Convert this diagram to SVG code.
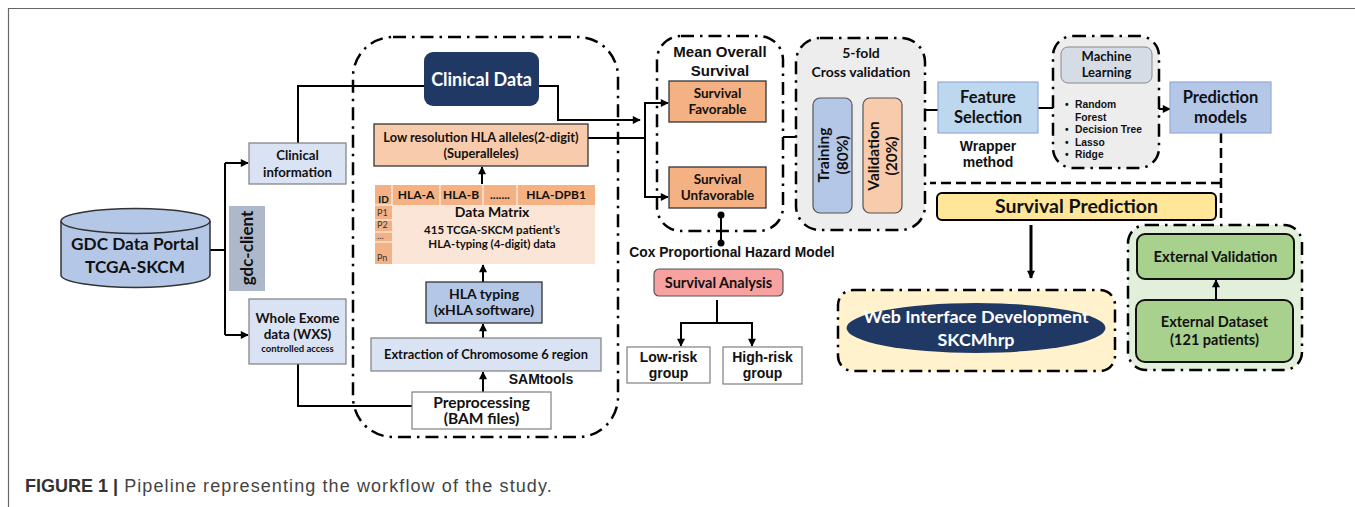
<svg xmlns="http://www.w3.org/2000/svg" width="1355" height="507" viewBox="0 0 1355 507">
<style>
.t{font-family:Lato,"Liberation Sans",sans-serif;font-weight:bold;fill:#111;text-anchor:middle}
.a{font-family:"Liberation Sans",Arial,sans-serif;font-weight:bold;fill:#111;text-anchor:middle}
.w{fill:#fff}
.dd{fill:none;stroke:#000;stroke-width:2.5;stroke-dasharray:13 6 2.5 6}
.ln{fill:none;stroke:#000;stroke-width:2}
.dash{fill:none;stroke:#000;stroke-width:2.5;stroke-dasharray:10 5}
.bx{stroke:#7f7f7f;stroke-width:1.2}
.bk{stroke:#333;stroke-width:1.3}
</style>
<defs>
<marker id="ah" viewBox="0 0 10 10" refX="9" refY="5" markerWidth="9" markerHeight="8" markerUnits="userSpaceOnUse" orient="auto-start-reverse">
<path d="M0,0 L10,5 L0,10 Z" fill="#000"/>
</marker>
</defs>
<rect x="0" y="0" width="1355" height="507" fill="#fff"/>
<path d="M8.5,507 V8.5 H1355" fill="none" stroke="#666" stroke-width="1.2"/>

<!-- group containers -->
<g id="grp-hla">
<rect class="dd" x="353" y="37" width="265" height="400" rx="40"/>
</g>
<g id="grp-mos">
<rect class="dd" x="657" y="36" width="126" height="195" rx="24"/>
<text class="a" x="720" y="57" font-size="15">Mean Overall</text>
<text class="a" x="720" y="76" font-size="15">Survival</text>
</g>
<g id="grp-cv">
<rect class="dd" x="796" y="38" width="129" height="192" rx="24" style="fill:#ededed"/>
<text class="t" x="861" y="58" font-size="14">5-fold</text>
<text class="t" x="861" y="77" font-size="14">Cross validation</text>
</g>
<g id="grp-ml">
<rect class="dd" x="1053" y="36" width="106" height="132" rx="20" style="fill:#ededed"/>
</g>
<g id="grp-web">
<rect class="dd" x="838" y="290" width="277" height="81" rx="15" style="fill:#fff2cc"/>
</g>
<g id="grp-ext">
<rect class="dd" x="1128" y="225" width="174" height="145" rx="18" style="fill:#e2efda"/>
</g>

<!-- connectors -->
<g id="connectors">
<path class="ln" d="M210,250 H225"/>
<path class="ln" d="M225,163 V335"/>
<path class="ln" d="M225,163 H248" marker-end="url(#ah)"/>
<path class="ln" d="M225,335 H248" marker-end="url(#ah)"/>
<path class="ln" d="M298,143 V86 H424"/>
<path class="ln" d="M298,364 V406 H412"/>
<path class="ln" d="M539,86 H558 V120 H640" marker-end="url(#ah)"/>
<path class="ln" d="M588,138 H645"/>
<path class="ln" d="M668,103 H645 V197 H668" marker-start="url(#ah)" marker-end="url(#ah)"/>
<path class="ln" d="M482,184 V167" marker-end="url(#ah)"/>
<path class="ln" d="M483,282 V265" marker-end="url(#ah)"/>
<path class="ln" d="M483,338 V324" marker-end="url(#ah)"/>
<path class="ln" d="M483,392 V372" marker-end="url(#ah)"/>
<path class="ln" d="M721,215 V243"/>
<circle cx="721" cy="215" r="3.5" fill="#000"/>
<circle cx="721" cy="243" r="3.5" fill="#000"/>
<path class="ln" d="M717,300 V323"/>
<path class="ln" d="M681,346 V323 H752 V346" marker-start="url(#ah)" marker-end="url(#ah)"/>
<path class="ln" d="M783,137 H796"/>
<path class="ln" d="M925,110 H938"/>
<path class="ln" d="M1038,108 H1053"/>
<path class="ln" d="M1159,109 H1170" marker-end="url(#ah)"/>
<path class="dash" d="M1221,133 V222"/>
<path class="dash" d="M1221,183 H930"/>
<path d="M1031,225 V278" fill="none" stroke="#000" stroke-width="3" marker-end="url(#ah)"/>
<path class="ln" d="M1216,300 V280" marker-end="url(#ah)"/>
</g>

<!-- nodes -->
<g id="gdc">
<path d="M61,221 V275 A74.5,12.5 0 0 0 210,275 V221" fill="#b4c7e7" stroke="#333" stroke-width="1.5"/>
<ellipse cx="135.5" cy="221" rx="74.5" ry="12.5" fill="#b4c7e7" stroke="#333" stroke-width="1.5"/>
<text class="t" x="135" y="250" font-size="17.2">GDC Data Portal</text>
<text class="t" x="135" y="273" font-size="17.2">TCGA-SKCM</text>
</g>
<g id="gdc-client">
<rect x="229" y="206" width="36" height="85" fill="#adb9ca"/>
<text class="t" transform="translate(253,248) rotate(-90)" font-size="17">gdc-client</text>
</g>
<g id="clinical-info">
<rect class="bx" x="249" y="143" width="97" height="41" fill="#dae3f3"/>
<text class="t" x="297.5" y="160" font-size="13.2">Clinical</text>
<text class="t" x="297.5" y="177" font-size="13.2">information</text>
</g>
<g id="wxs">
<rect class="bx" x="249" y="299" width="97" height="65" fill="#dae3f3"/>
<text class="t" x="297.5" y="323" font-size="13.5">Whole Exome</text>
<text class="t" x="297.5" y="339" font-size="13.5">data (WXS)</text>
<text class="t" x="297.5" y="352" font-size="9.5">controlled access</text>
</g>
<g id="clinical-data">
<rect x="424" y="52" width="115" height="54" rx="9" fill="#203864"/>
<text class="t w" x="481.5" y="86" font-size="18">Clinical Data</text>
</g>
<g id="low-res">
<rect class="bk" x="374" y="124" width="214" height="42" fill="#f8cbad"/>
<text class="t" x="481" y="142" font-size="12.8">Low resolution HLA alleles(2-digit)</text>
<text class="t" x="481" y="158" font-size="12.8">(Superalleles)</text>
</g>
<g id="data-matrix">
<rect x="375" y="185" width="220" height="79" fill="#fbe5d6"/>
<rect x="375" y="185" width="220" height="20" fill="#f4b183"/>
<rect x="375" y="185" width="17" height="79" fill="#f4b183"/>
<path d="M392,185 V205 M440,185 V205 M483,185 V205 M517,185 V205 M375,205 H392 M375,220 H392 M375,232 H392 M375,242 H392" stroke="#fff" stroke-width="1"/>
<text class="t" x="383.5" y="203" font-size="10">ID</text>
<text class="t" x="416" y="199" font-size="12">HLA-A</text>
<text class="t" x="461" y="199" font-size="12">HLA-B</text>
<text class="t" x="500" y="199" font-size="12">.......</text>
<text class="t" x="556" y="199" font-size="12">HLA-DPB1</text>
<g font-family="Lato,'Liberation Sans',sans-serif" font-size="9" fill="#333">
<text x="377" y="216">P1</text>
<text x="377" y="228">P2</text>
<text x="377" y="239">…</text>
<text x="377" y="261">Pn</text>
</g>
<text class="t" x="492" y="217" font-size="14">Data Matrix</text>
<text class="t" x="492" y="234" font-size="11.5">415 TCGA-SKCM patient’s</text>
<text class="t" x="492" y="248" font-size="11.5">HLA-typing (4-digit) data</text>
</g>
<g id="hla-typing">
<rect class="bk" x="426" y="282" width="116" height="41" fill="#b4c7e7"/>
<text class="t" x="484" y="299" font-size="14">HLA typing</text>
<text class="t" x="484" y="315" font-size="14">(xHLA software)</text>
</g>
<g id="extraction">
<rect class="bx" x="371" y="338" width="230" height="33" fill="#dae3f3"/>
<text class="t" x="486" y="359" font-size="12.9">Extraction of Chromosome 6 region</text>
</g>
<g id="samtools">
<text class="a" x="541" y="384" font-size="14">SAMtools</text>
</g>
<g id="preprocessing">
<rect class="bx" x="412" y="392" width="139" height="37" fill="#fff"/>
<text class="t" x="481.5" y="408" font-size="15.5">Preprocessing</text>
<text class="t" x="481.5" y="424" font-size="15.5">(BAM files)</text>
</g>
<g id="surv-fav">
<rect class="bk" x="669" y="81" width="97" height="41" fill="#f4b183"/>
<text class="t" x="717.5" y="98" font-size="13.5">Survival</text>
<text class="t" x="717.5" y="114" font-size="13.5">Favorable</text>
</g>
<g id="surv-unfav">
<rect class="bk" x="669" y="167" width="97" height="41" fill="#f4b183"/>
<text class="t" x="717.5" y="184" font-size="13.5">Survival</text>
<text class="t" x="717.5" y="200" font-size="13.5">Unfavorable</text>
</g>
<g id="cox">
<text class="a" x="732" y="257" font-size="13.8">Cox Proportional Hazard Model</text>
</g>
<g id="surv-analysis">
<rect x="654" y="269" width="129" height="27" rx="5" fill="#f7a1a1" stroke="#555" stroke-width="1.2"/>
<text class="t" x="718.5" y="288" font-size="14.5">Survival Analysis</text>
</g>
<g id="low-risk">
<rect class="bx" x="627" y="347" width="83" height="36" fill="#fff"/>
<text class="a" x="668.5" y="362" font-size="14">Low-risk</text>
<text class="a" x="668.5" y="378" font-size="14">group</text>
</g>
<g id="high-risk">
<rect class="bx" x="723" y="347" width="79" height="37" fill="#fff"/>
<text class="a" x="762.5" y="362" font-size="14">High-risk</text>
<text class="a" x="762.5" y="378" font-size="14">group</text>
</g>
<g id="training">
<rect x="813" y="98" width="39" height="115" rx="7" fill="#b4c7e7" stroke="#555" stroke-width="1.2"/>
<text class="t" transform="translate(829,155) rotate(-90)" font-size="15.5">Training</text>
<text class="t" transform="translate(848,155) rotate(-90)" font-size="15.5">(80%)</text>
</g>
<g id="validation">
<rect x="863" y="98" width="39" height="115" rx="7" fill="#f8cbad" stroke="#555" stroke-width="1.2"/>
<text class="t" transform="translate(879,156) rotate(-90)" font-size="15.5">Validation</text>
<text class="t" transform="translate(897,156) rotate(-90)" font-size="15.5">(20%)</text>
</g>
<g id="feature-selection">
<rect x="938" y="82" width="100" height="51" fill="#bdd7ee" stroke="#8faadc" stroke-width="1.2"/>
<text class="t" x="988" y="103" font-size="16.5">Feature</text>
<text class="t" x="988" y="123" font-size="16.5">Selection</text>
<text class="a" x="988" y="151" font-size="14">Wrapper</text>
<text class="a" x="988" y="167" font-size="14">method</text>
</g>
<g id="machine-learning">
<rect x="1061" y="47" width="91" height="36" rx="7" fill="#d6dce5" stroke="#888" stroke-width="1"/>
<text class="t" x="1106.5" y="61" font-size="13">Machine</text>
<text class="t" x="1106.5" y="77" font-size="13">Learning</text>
<g font-family="'Liberation Sans',Arial,sans-serif" font-weight="bold" font-size="10.3" fill="#111">
<text x="1065" y="108">•</text><text x="1075" y="108">Random</text>
<text x="1075" y="121">Forest</text>
<text x="1065" y="133">•</text><text x="1075" y="133">Decision Tree</text>
<text x="1065" y="146">•</text><text x="1075" y="146">Lasso</text>
<text x="1065" y="158">•</text><text x="1075" y="158">Ridge</text>
</g>
</g>
<g id="prediction-models">
<rect x="1170" y="82" width="101" height="51" fill="#b4c7e7" stroke="#8faadc" stroke-width="1.2"/>
<text class="t" x="1220.5" y="103" font-size="16.5">Prediction</text>
<text class="t" x="1220.5" y="123" font-size="16.5">models</text>
</g>
<g id="survival-prediction">
<rect x="937" y="193" width="279" height="27" rx="5" fill="#ffe699" stroke="#000" stroke-width="2"/>
<text class="t" x="1076.5" y="213" font-size="19.5">Survival Prediction</text>
</g>
<g id="web-interface">
<ellipse cx="976" cy="328" rx="129.5" ry="25" fill="#203864"/>
<text class="t w" x="976" y="323" font-size="17.9">Web Interface Development</text>
<text class="t w" x="976" y="346" font-size="17.9">SKCMhrp</text>
</g>
<g id="external-validation">
<rect x="1137" y="234" width="157" height="45" rx="8" fill="#a9d18e" stroke="#111" stroke-width="2"/>
<text class="t" x="1215.5" y="262" font-size="14.8">External Validation</text>
</g>
<g id="external-dataset">
<rect x="1136" y="300" width="157" height="62" rx="9" fill="#a9d18e" stroke="#111" stroke-width="2"/>
<text class="t" x="1214.5" y="327" font-size="14.5">External Dataset</text>
<text class="t" x="1214.5" y="345" font-size="14.5">(121 patients)</text>
</g>
<g id="caption">
<text x="25" y="492" font-family="'Liberation Sans',Arial,sans-serif" font-size="18" fill="#444"><tspan font-weight="bold" fill="#333">FIGURE 1 |</tspan><tspan letter-spacing="1.1"> Pipeline representing the workflow of the study.</tspan></text>
</g>
</svg>
